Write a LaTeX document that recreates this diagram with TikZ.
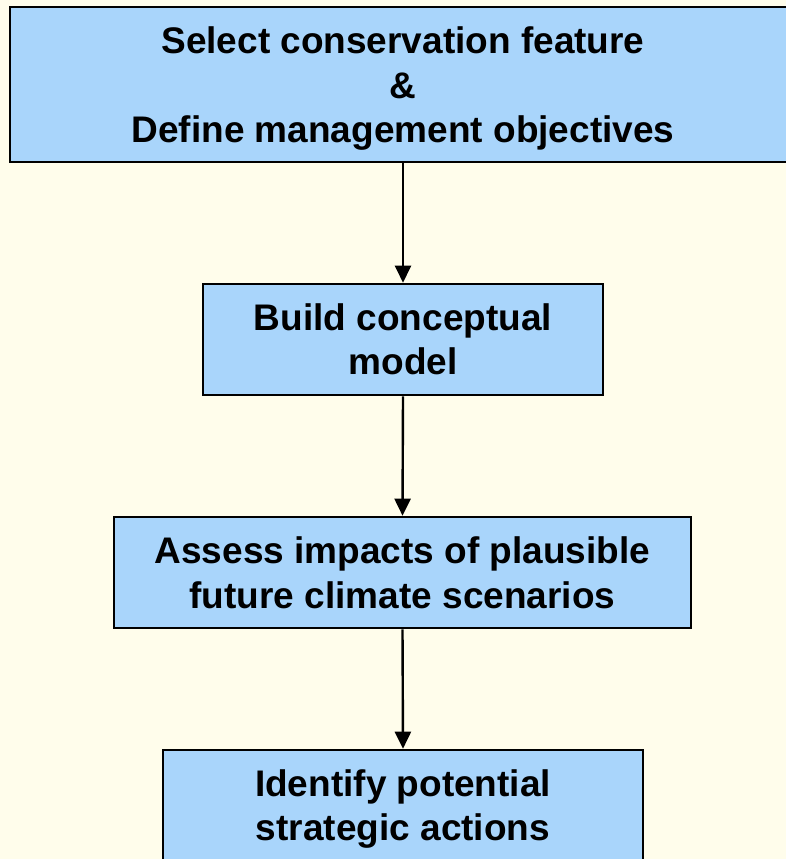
\documentclass[tikz,border=0pt]{standalone}
\usepackage{fontspec}
\setmainfont{Liberation Sans}
\usetikzlibrary{arrows.meta}
\definecolor{bgyellow}{HTML}{FFFDEB}
\definecolor{boxblue}{HTML}{A9D5FB}
\tikzset{
  stepbox/.style={draw=black, line width=2.6pt, fill=boxblue, inner sep=0pt},
  steptext/.style={align=center, inner sep=0pt,
    font=\bfseries\fontsize{37}{44.5}\selectfont},
  flow/.style={draw=black, line width=2.4pt, -{Triangle[length=17pt,width=16pt]}}
}
\begin{document}
\begin{tikzpicture}[x=1pt,y=-1pt]
\fill[bgyellow] (0,0) rectangle (786,859);
\useasboundingbox (0,0) rectangle (786,859);
\node[stepbox, minimum width=786pt, minimum height=155pt] (a) at (403,84.5) {};
\node[stepbox, minimum width=400pt, minimum height=111pt] (b) at (403,339.5) {};
\node[stepbox, minimum width=577pt, minimum height=111pt] (c) at (402.5,572.5) {};
\node[stepbox, minimum width=480pt, minimum height=111pt] (d) at (403,805.5) {};
\node[steptext] (ta) at ([yshift=-4.5pt]a.center)
  {Select conservation feature\\\&\\Define management objectives};
\node[steptext] (tb) at (b.center) {Build conceptual\\model};
\node[steptext] (tc) at ([yshift=-0.5pt]c.center) {Assess impacts of plausible\\future climate scenarios};
\node[steptext] (td) at ([yshift=-3.5pt]d.center) {Identify potential\\strategic actions};
\draw[flow] (a.south) -- (b.north);
\draw[flow] (b.south) -- (c.north);
\draw[flow] (c.south) -- (d.north);
\end{tikzpicture}
\end{document}
